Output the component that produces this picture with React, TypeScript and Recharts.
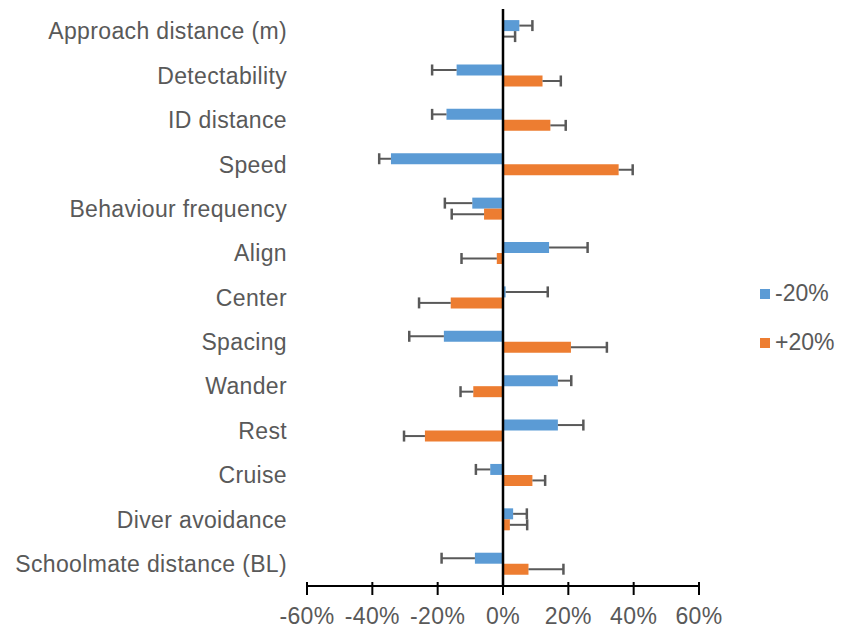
import { BarChart, Bar, XAxis, YAxis, ReferenceLine, Legend } from 'recharts'

const categories = [
  'Approach distance (m)',
  'Detectability',
  'ID distance',
  'Speed',
  'Behaviour frequency',
  'Align',
  'Center',
  'Spacing',
  'Wander',
  'Rest',
  'Cruise',
  'Diver avoidance',
  'Schoolmate distance (BL)',
]

// percent change in output for each parameter
const minus20 = [5.0, -14.2, -17.3, -34.3, -9.4, 14.1, 0.8, -18.1, 16.8, 16.8, -3.9, 3.1, -8.6]
const plus20 = [0.2, 12.1, 14.5, 35.4, -5.8, -1.9, -16.0, 20.8, -9.1, -23.9, 9.0, 2.1, 7.8]

// one-sided error bar lengths (drawn away from zero)
const minus20Err = [4.0, 7.5, 4.4, 3.6, 8.4, 11.8, 12.9, 10.6, 4.1, 7.8, 4.4, 4.2, 10.2]
const plus20Err = [3.5, 5.6, 4.7, 4.3, 9.9, 10.8, 9.7, 11.0, 3.9, 6.4, 3.9, 5.3, 10.7]

const xTicks = [-60, -40, -20, 0, 20, 40, 60]

const BLUE = '#5B9BD5'
const ORANGE = '#ED7D31'
const GREY = '#595959'
const FONT = '"Liberation Sans", Arial, sans-serif'

const data = categories.map((name, i) => ({
  name,
  minus: minus20[i],
  minusErr: Math.sign(minus20[i] || 1) * minus20Err[i],
  plus: plus20[i],
  plusErr: Math.sign(plus20[i] || 1) * plus20Err[i],
}))

// draws the error whisker across the stacked segment, cap at the far end
const ErrShape = (props: any) => {
  const { x, y, width, height, value } = props
  const cy = y + height / 2
  const v = Array.isArray(value) ? value[1] - value[0] : value
  const a = x
  const b = x + width
  const far = v < 0 ? Math.min(a, b) : Math.max(a, b)
  const near = v < 0 ? Math.max(a, b) : Math.min(a, b)
  return (
    <g>
      <line x1={near} y1={cy} x2={far} y2={cy} stroke={GREY} strokeWidth={2} />
      <line x1={far} y1={cy - 5.5} x2={far} y2={cy + 5.5} stroke={GREY} strokeWidth={2.5} />
    </g>
  )
}

const XTick = (props: any) => {
  const { x, y, payload } = props
  return (
    <g>
      <line x1={x} y1={y - 4} x2={x} y2={y + 9} stroke="#000" strokeWidth={2} />
      <text x={x} y={y + 38} textAnchor="middle" fill={GREY} fontSize={23} letterSpacing={0.35} fontFamily={FONT}>
        {`${payload.value}%`}
      </text>
    </g>
  )
}

const LegendContent = () => {
  const items = [
    { label: '-20%', color: BLUE },
    { label: '+20%', color: ORANGE },
  ]
  return (
    <div style={{ width: 137, paddingLeft: 61, boxSizing: 'border-box', fontFamily: FONT }}>
      {items.map((it) => (
        <div key={it.label} style={{ height: 49, display: 'flex', alignItems: 'center' }}>
          <span style={{ display: 'inline-block', flex: 'none', width: 10, height: 10, background: it.color, marginRight: 5 }} />
          <span style={{ fontSize: 23, color: GREY, whiteSpace: 'nowrap', flex: 'none' }}>{it.label}</span>
        </div>
      ))}
    </div>
  )
}

export default function App() {
  return (
    <BarChart
      width={828}
      height={622}
      data={data}
      layout="vertical"
      stackOffset="sign"
      barCategoryGap="25%"
      barGap={0}
      margin={{ top: 1, right: 0, bottom: 4, left: 0 }}
      style={{ fontFamily: FONT }}
    >
      <XAxis
        type="number"
        domain={[-60, 60]}
        ticks={xTicks}
        axisLine={{ stroke: '#000', strokeWidth: 2 }}
        tickLine={false}
        tickSize={0}
        tickMargin={0}
        height={40}
        tick={<XTick />}
        interval={0}
      />
      <YAxis
        type="category"
        dataKey="name"
        width={299}
        axisLine={false}
        tickLine={false}
        tickSize={0}
        tickMargin={20}
        interval={0}
        tick={{ fill: GREY, fontSize: 23, letterSpacing: 0.35 }}
      />
      <Legend
        layout="vertical"
        align="right"
        verticalAlign="middle"
        content={<LegendContent />}
        wrapperStyle={{ top: 261 }}
      />
      <Bar dataKey="minus" name="-20%" stackId="m" fill={BLUE} isAnimationActive={false} />
      <Bar dataKey="minusErr" stackId="m" legendType="none" shape={<ErrShape />} isAnimationActive={false} />
      <Bar dataKey="plus" name="+20%" stackId="p" fill={ORANGE} isAnimationActive={false} />
      <Bar dataKey="plusErr" stackId="p" legendType="none" shape={<ErrShape />} isAnimationActive={false} />
      <ReferenceLine x={0} stroke="#000" strokeWidth={2.5} />
    </BarChart>
  )
}
